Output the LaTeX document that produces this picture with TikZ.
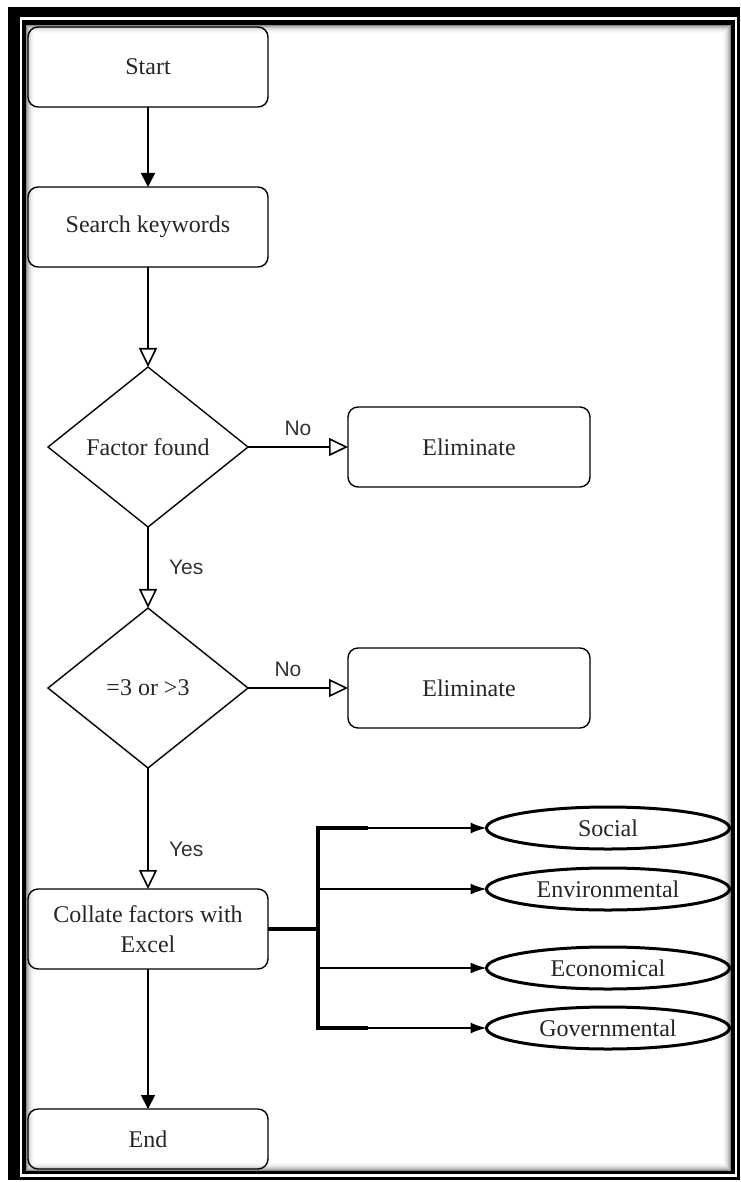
\documentclass[tikz,border=0pt]{standalone}
\usepackage{fontspec}
\setmainfont{Liberation Serif}
\newfontfamily\answerfont{Liberation Sans}
\usetikzlibrary{arrows.meta,positioning,shapes.geometric}
\tikzset{
  stepbox/.style={
    draw,
    rectangle,
    rounded corners=10pt,
    minimum width=240pt,
    minimum height=80pt,
    outer sep=0pt,
    line width=1.4pt,
    align=center,
    text=black!85,
    font=\fontsize{24}{30}\selectfont
  },
  endbox/.style={
    stepbox,
    minimum height=60pt
  },
  decision/.style={
    draw,
    diamond,
    aspect=1.25,
    minimum width=200pt,
    minimum height=160pt,
    inner sep=0pt,
    outer sep=0pt,
    line width=1.4pt,
    text=black!85,
    font=\fontsize{24}{30}\selectfont
  },
  group/.style={
    draw,
    ellipse,
    minimum width=243pt,
    minimum height=42pt,
    inner sep=0pt,
    outer sep=0pt,
    line width=3pt,
    text=black!85,
    font=\fontsize{24}{30}\selectfont
  },
  answer/.style={
    font={\answerfont\fontsize{21}{24}\selectfont},
    text=black!80
  },
  line/.style={
    -{Triangle[length=14pt,width=14pt]},
    line width=1.6pt
  },
  openline/.style={
    -{Triangle[open,length=19pt,width=18pt,fill=white]},
    line width=1.6pt
  },
  fan/.style={
    -{Latex[length=16pt,width=11pt]},
    line width=1.6pt
  },
  bus/.style={
    line width=3.5pt,
    line join=miter
  }
}

\begin{document}
\begin{tikzpicture}[x=1pt,y=-1pt]
\useasboundingbox (0,0) rectangle (740,1182);

% frame
\fill[black] (8,7) rectangle (740,1180);
\fill[white] (20,17) rectangle (737,1177);
\fill[black] (22,20) rectangle (735,1174);
\fill[white] (26,25) rectangle (731,1171);
\foreach \i/\g in {0/45,1/32,2/23,3/16,4/11,5/7,6/4,7/2}
  \draw[black!\g, line width=1pt] (26.5+\i,25.5+\i) rectangle (730.5-\i,1170.5-\i);

% main column
\node[stepbox] (start) at (148,67) {Start};
\node[stepbox, below=80pt of start] (search) {Search keywords};
\node[decision, below=100pt of search] (found) {Factor found};
\node[stepbox, minimum width=242pt, right=100pt of found] (elimA) {Eliminate};
\node[decision, below=81pt of found] (count) {=3 or >3};
\node[stepbox, minimum width=242pt, right=100pt of count] (elimB) {Eliminate};
\node[stepbox, below=121pt of count] (collate) {Collate factors with\\Excel};
\node[endbox, below=140pt of collate] (end) {End};

% factor groups
\node[group] (social) at (608,828) {Social};
\node[group] (environ) at (608,889) {Environmental};
\node[group] (econ) at (608,968) {Economical};
\node[group] (govern) at (608,1028) {Governmental};
\coordinate (bus) at (318,928);

\draw[line] (start) -- (search);
\draw[openline] (search) -- (found);
\draw[openline] (found) -- node[answer, above, yshift=7pt] {No} (elimA);
\draw[openline] (found) -- node[answer, right=17pt] {Yes} (count);
\draw[openline] (count) -- node[answer, above, yshift=7pt, pos=0.4] {No} (elimB);
\draw[openline] (count) -- node[answer, right=17pt, pos=0.67] {Yes} (collate);
\draw[line] (collate) -- (end);

\draw[bus] (collate.east) -- (collate.east -| bus);
\draw[bus] (social -| bus) ++(50,0) -- (social -| bus)
  -- (govern -| bus) -- ++(50,0);
\foreach \g in {social,environ,econ,govern}
  \draw[fan] (\g -| bus) -- (\g.west);

\end{tikzpicture}
\end{document}
